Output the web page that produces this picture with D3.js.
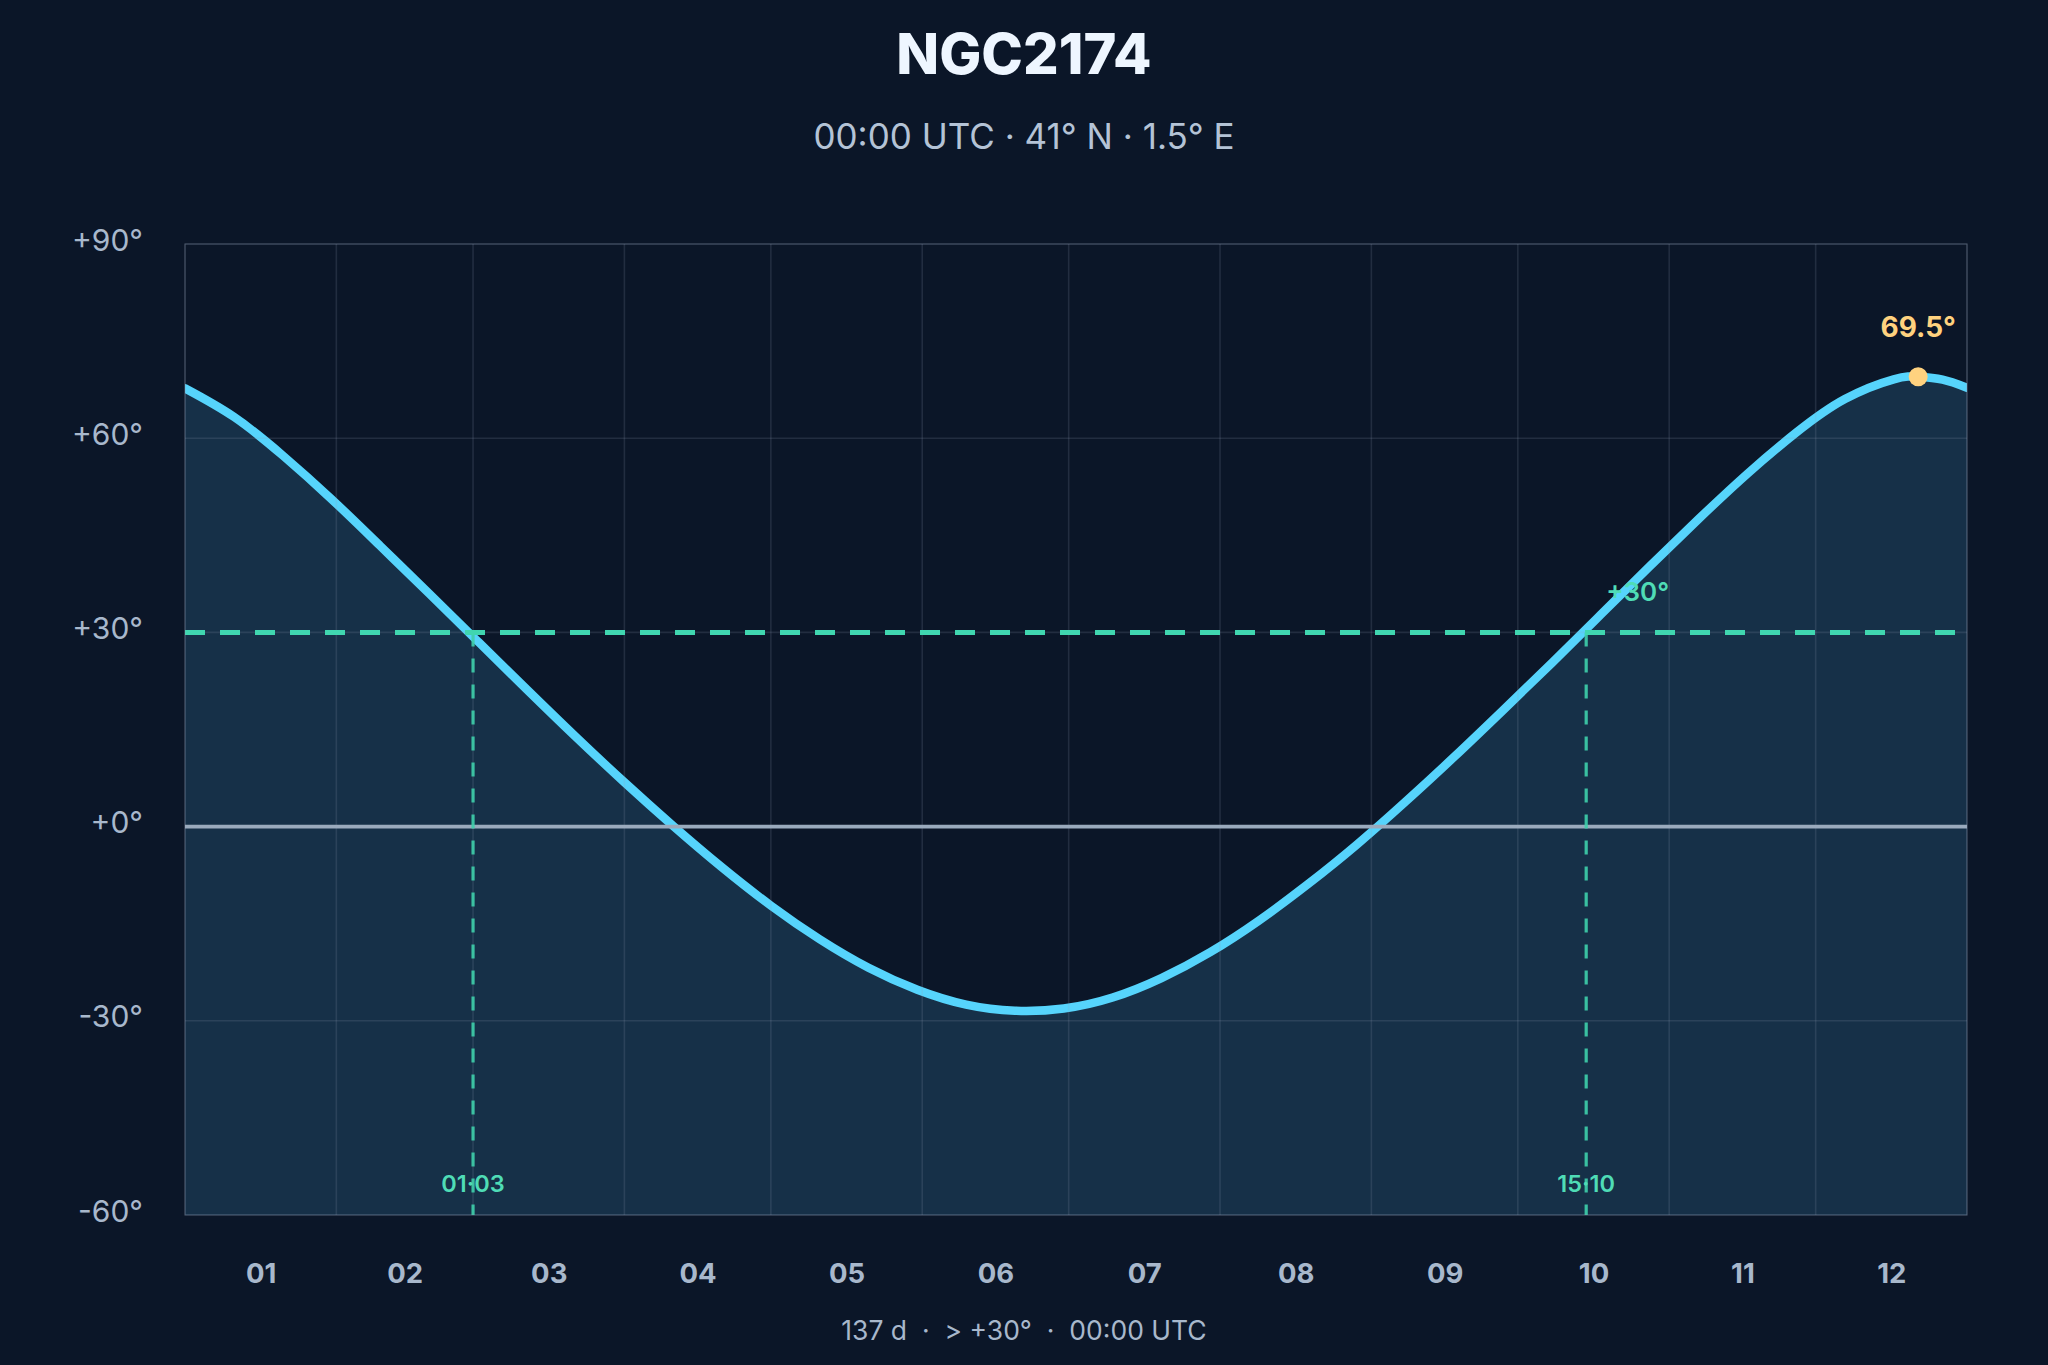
<!DOCTYPE html>
<html>
<head>
<meta charset="utf-8">
<script src="https://cdn.jsdelivr.net/npm/d3@7/dist/d3.min.js"></script>
<style>
  html, body { margin: 0; padding: 0; background: #0b1628; }
  svg { display: block; }
  text { font-family: Inter, "Noto Sans", sans-serif; }
</style>
</head>
<body>
<svg id="chart" width="2048" height="1365"></svg>
<script>
// ---- data ----
const title = "NGC2174";
const subtitle = "00:00 UTC \u00b7 41\u00b0 N \u00b7 1.5\u00b0 E";
const footer = "137 d \u00a0\u00b7\u00a0 > +30\u00b0 \u00a0\u00b7\u00a0 00:00 UTC";

// day of year (0 = Jan 1) and altitude (deg) at 00:00 UTC
const days = [0, 10, 20, 30, 40, 50, 60, 70, 80, 90, 100, 110, 120, 130, 140, 150, 160, 170, 180,
  190, 200, 210, 220, 230, 240, 250, 260, 270, 280, 290, 300, 310, 320, 330, 340, 350, 355, 360, 365];
const altitudes = [67.7, 63.3, 57.35, 50.6, 43.35, 36.0, 28.6, 21.2, 13.9, 6.85, 0.1, -6.3, -12.2, -17.4, -21.8, -25.2, -27.5, -28.45, -28.1,
  -26.4, -23.4, -19.4, -14.5, -8.9, -2.8, 3.85, 10.8, 18.0, 25.3, 32.75, 40.2, 47.5, 54.5, 60.85, 66.05, 69.1, 69.5, 69.05, 67.8];

const monthLabels = ["01","02","03","04","05","06","07","08","09","10","11","12"];
const monthStarts = [0, 31, 59, 90, 120, 151, 181, 212, 243, 273, 304, 334, 365];

const yTicks = [-60, -30, 0, 30, 60, 90];
const yTickLabels = ["-60\u00b0", "-30\u00b0", "+0\u00b0", "+30\u00b0", "+60\u00b0", "+90\u00b0"];

const threshold = 30;
const thresholdLabel = "+30\u00b0";
const crossingDays = [59, 287];
const crossingLabels = ["01\u00b703", "15\u00b710"];

const peakDay = 355;
const peakAlt = 69.5;
const peakLabel = "69.5\u00b0";

// ---- layout ----
const W = 2048, H = 1365;
const m = { left: 185, right: 2048 - 1967, top: 244, bottom: 1365 - 1215 };
const svg = d3.select("#chart");

const x = d3.scaleLinear().domain([0, 365]).range([m.left, W - m.right]);
const y = d3.scaleLinear().domain([-60, 90]).range([H - m.bottom, m.top]);

const pts = days.map((d, i) => ({ d, a: altitudes[i] }));

svg.append("rect").attr("width", W).attr("height", H).attr("fill", "#0b1628");

const defs = svg.append("defs");
defs.append("clipPath").attr("id", "plotclip")
  .append("rect")
  .attr("x", x(0)).attr("y", y(90))
  .attr("width", x(365) - x(0)).attr("height", y(-60) - y(90));

const plot = svg.append("g").attr("clip-path", "url(#plotclip)");

// area under curve
const area = d3.area()
  .x(p => x(p.d)).y0(y(-60)).y1(p => y(p.a))
  .curve(d3.curveNatural);
plot.append("path").datum(pts).attr("d", area).attr("fill", "#163048");

// grid
const gridColor = "rgba(148,163,184,0.17)";
const grid = svg.append("g");
grid.selectAll("line.v").data(monthStarts).join("line")
  .attr("x1", d => x(d)).attr("x2", d => x(d))
  .attr("y1", y(90)).attr("y2", y(-60))
  .attr("stroke", gridColor).attr("stroke-width", 1.6);
grid.selectAll("line.h").data(yTicks).join("line")
  .attr("x1", x(0)).attr("x2", x(365))
  .attr("y1", d => y(d)).attr("y2", d => y(d))
  .attr("stroke", gridColor).attr("stroke-width", 1.6);

// zero line
svg.append("line")
  .attr("x1", x(0)).attr("x2", x(365))
  .attr("y1", y(0)).attr("y2", y(0))
  .attr("stroke", "#9aaabd").attr("stroke-width", 3.6);

// crossing verticals
svg.selectAll("line.cross").data(crossingDays).join("line")
  .attr("x1", d => x(d)).attr("x2", d => x(d))
  .attr("y1", y(threshold)).attr("y2", y(-60))
  .attr("stroke", "#3fd0ab").attr("stroke-width", 3.2)
  .attr("stroke-dasharray", "14,12").attr("opacity", 0.9);

// threshold line
svg.append("line")
  .attr("x1", x(0)).attr("x2", x(365))
  .attr("y1", y(threshold)).attr("y2", y(threshold))
  .attr("stroke", "#40d6b0").attr("stroke-width", 5)
  .attr("stroke-dasharray", "20,15");

// curve
const line = d3.line().x(p => x(p.d)).y(p => y(p.a)).curve(d3.curveNatural);
plot.append("path").datum(pts).attr("d", line)
  .attr("fill", "none").attr("stroke", "#56d4fc").attr("stroke-width", 8.5)
  .attr("stroke-linecap", "round");

// crossing labels
svg.selectAll("text.cross").data(crossingDays).join("text")
  .attr("x", d => x(d)).attr("y", 1192)
  .attr("text-anchor", "middle")
  .attr("font-size", 23.5).attr("font-weight", 600)
  .attr("fill", "#4fdcb6")
  .text((d, i) => crossingLabels[i]);

// threshold label
svg.append("text")
  .attr("x", x(crossingDays[1]) + 20).attr("y", y(threshold) - 31)
  .attr("font-size", 26).attr("font-weight", 600)
  .attr("fill", "#4fdcb6")
  .text(thresholdLabel);

// peak
svg.append("circle").attr("cx", x(peakDay)).attr("cy", y(peakAlt)).attr("r", 9.5).attr("fill", "#ffd27f");
svg.append("text")
  .attr("x", x(peakDay)).attr("y", y(peakAlt) - 40)
  .attr("text-anchor", "middle")
  .attr("font-size", 28).attr("font-weight", 700)
  .attr("fill", "#ffd27f")
  .text(peakLabel);

// plot border
svg.append("rect")
  .attr("x", x(0)).attr("y", y(90))
  .attr("width", x(365) - x(0)).attr("height", y(-60) - y(90))
  .attr("fill", "none").attr("stroke", "rgba(148,163,184,0.22)").attr("stroke-width", 1.6);

// y axis labels
const yAxis = d3.axisLeft(y).tickValues(yTicks)
  .tickFormat((d, i) => yTickLabels[i]).tickSize(0).tickPadding(42);
const yg = svg.append("g").attr("transform", `translate(${x(0)},0)`).call(yAxis);
yg.select(".domain").remove();
yg.selectAll("text").attr("font-size", 30).attr("fill", "#a8b8cc")
  .attr("font-family", "Inter, sans-serif").attr("dy", "0.2em");

// x axis labels (month centres)
const monthCenters = monthLabels.map((_, i) => (monthStarts[i] + monthStarts[i + 1]) / 2);
const xAxis = d3.axisBottom(x).tickValues(monthCenters)
  .tickFormat((d, i) => monthLabels[i]).tickSize(0).tickPadding(48);
const xg = svg.append("g").attr("transform", `translate(0,${y(-60)})`).call(xAxis);
xg.select(".domain").remove();
xg.selectAll("text").attr("font-size", 27.5).attr("font-weight", 700).attr("fill", "#a8b8cc")
  .attr("font-family", "Inter, sans-serif");

// titles
svg.append("text").attr("x", W / 2).attr("y", 74).attr("text-anchor", "middle")
  .attr("font-size", 56).attr("font-weight", 800).attr("fill", "#eef6ff").text(title);
svg.append("text").attr("x", W / 2).attr("y", 149).attr("text-anchor", "middle")
  .attr("font-size", 35).attr("fill", "#b4c3d6").text(subtitle);
svg.append("text").attr("x", W / 2).attr("y", 1340).attr("text-anchor", "middle")
  .attr("font-size", 26.5).attr("fill", "#a8b8cc").text(footer);
</script>
</body>
</html>
